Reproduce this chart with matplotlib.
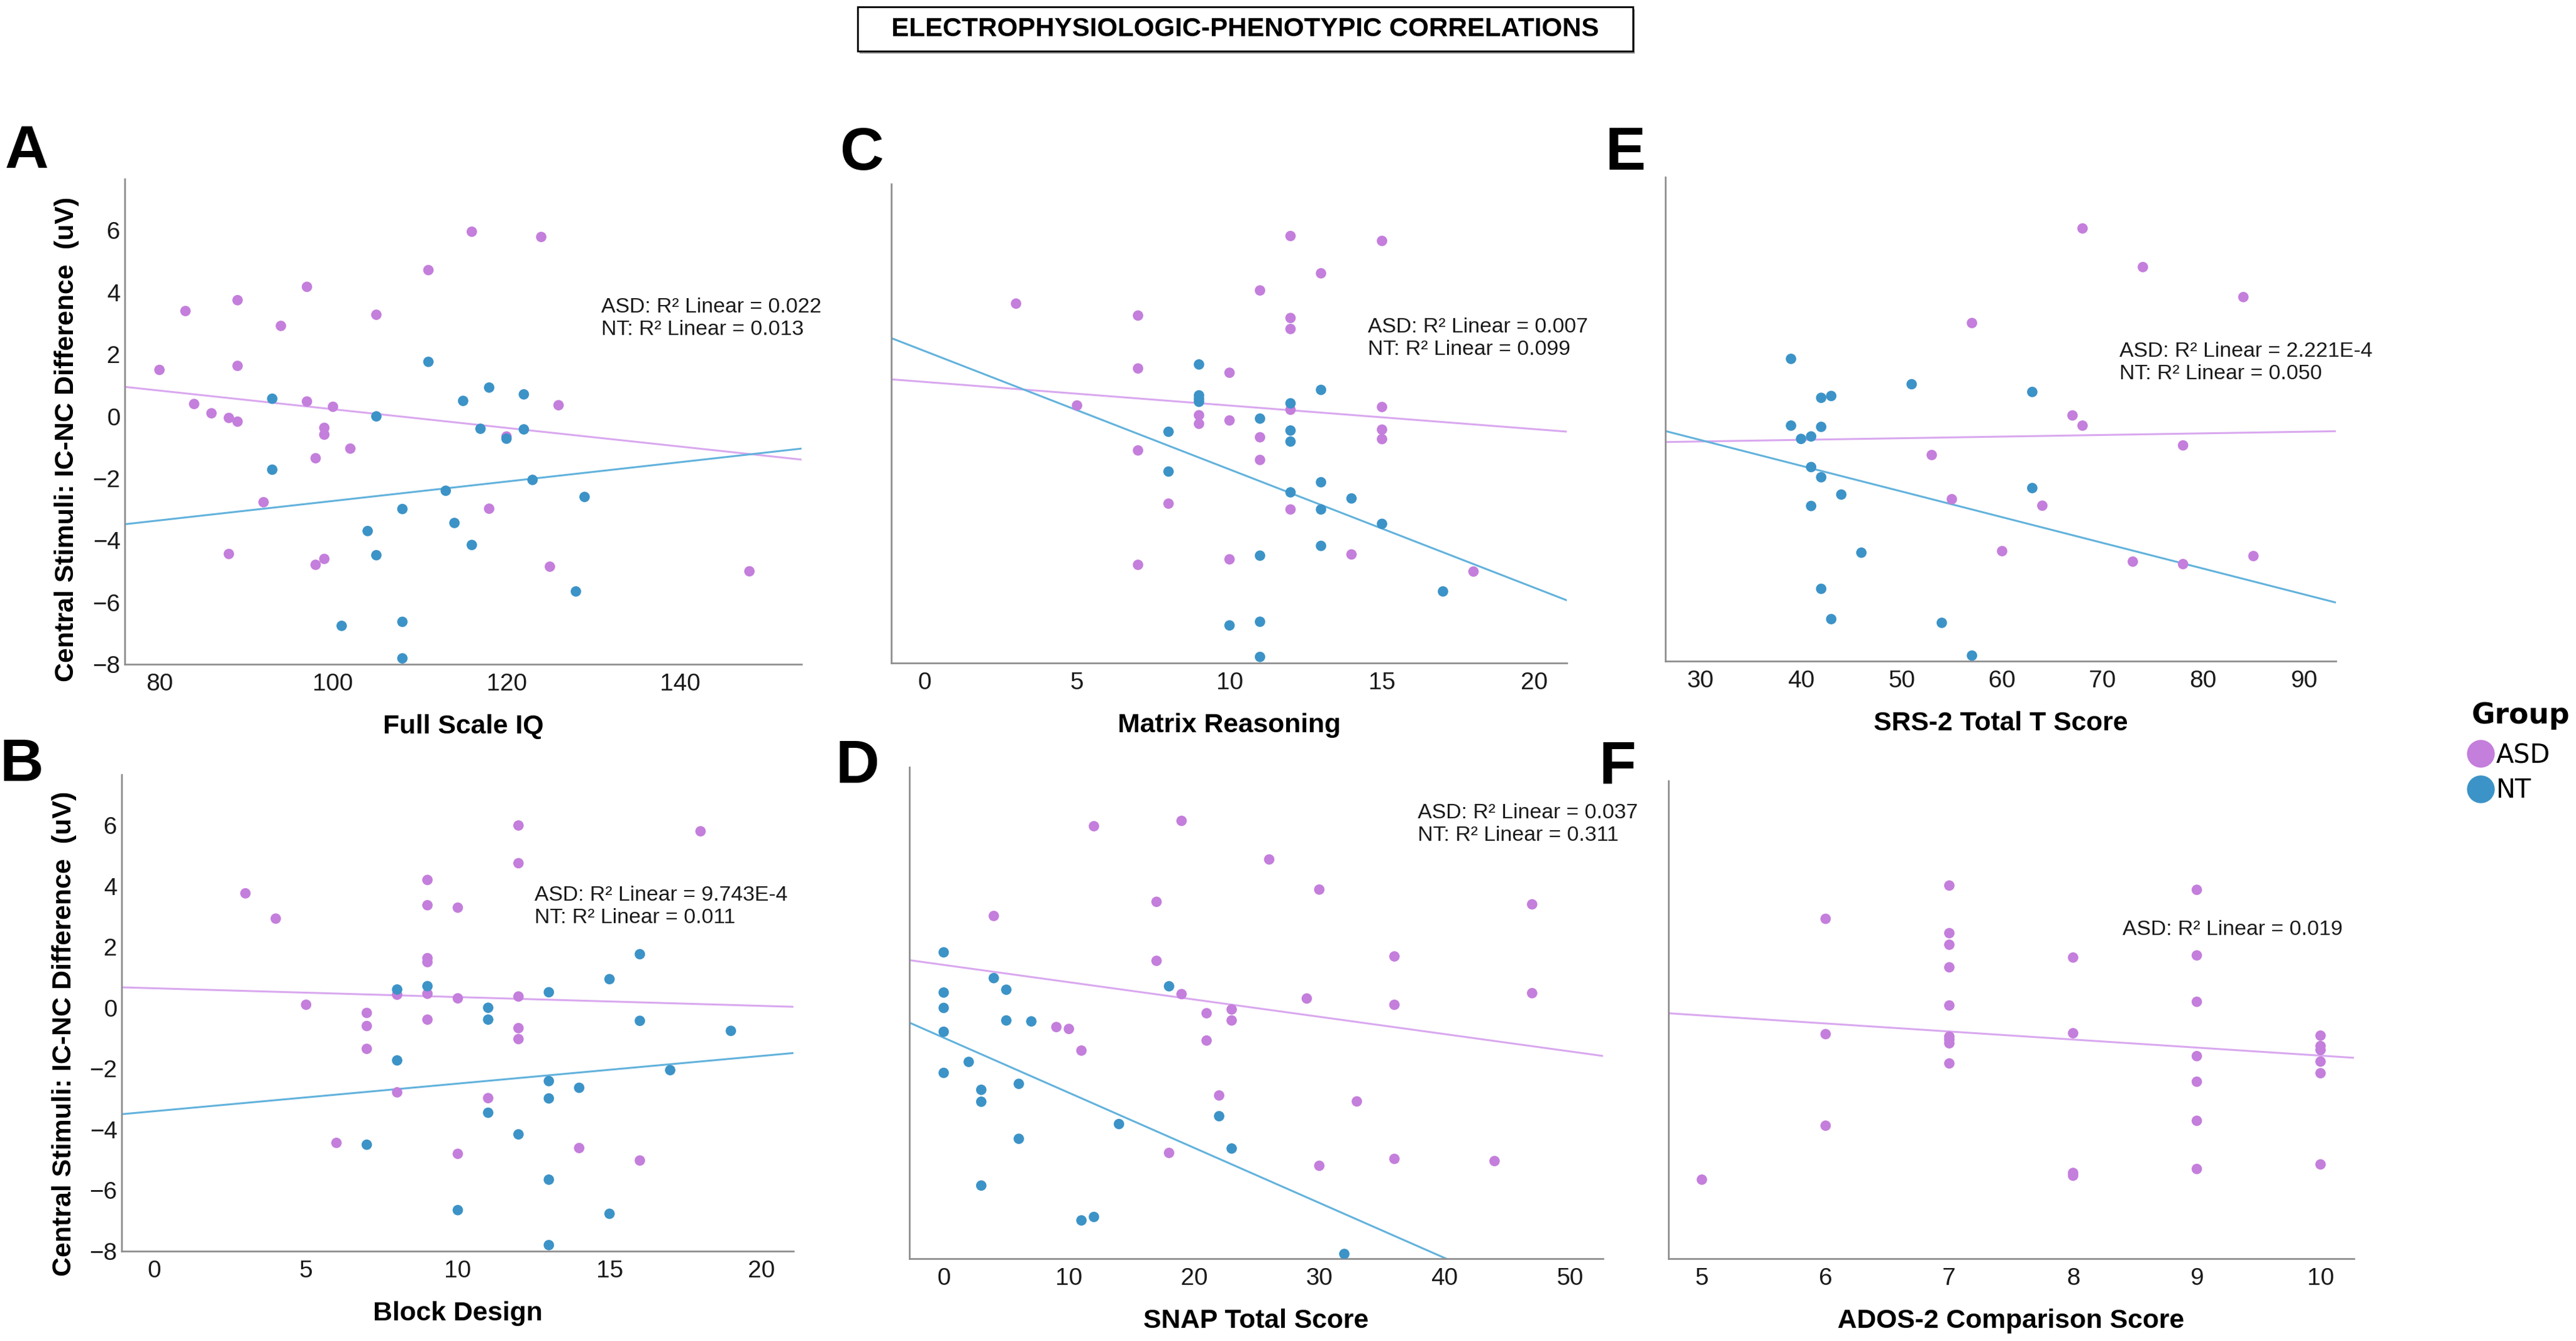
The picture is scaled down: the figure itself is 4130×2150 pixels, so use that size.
import numpy as np
import matplotlib
matplotlib.use('Agg')
import matplotlib.pyplot as plt
from matplotlib.lines import Line2D
from matplotlib.patches import Rectangle

W, H = 4130, 2150
DPI = 100

ASD_COLOR = '#C47EDC'
NT_COLOR = '#3C93C7'
ASD_LINE = '#D9A8EF'
NT_LINE = '#62B2DC'
SPINE_COLOR = '#8f8f8f'

TITLE = 'ELECTROPHYSIOLOGIC-PHENOTYPIC CORRELATIONS'
Y_LABEL = 'Central Stimuli: IC-NC Difference  (uV)'
Y_LIM = (-8, 7.66)
Y_TICKS = [-8, -6, -4, -2, 0, 2, 4, 6]

# A - Full Scale IQ
fsiq_asd_x = [80, 83, 84, 86, 88, 89, 89, 89, 88, 92, 94, 97, 97, 98, 98, 99, 99, 99, 100, 102,
              105, 111, 116, 118, 120, 124, 125, 126, 148]
fsiq_asd_y = [1.5, 3.4, 0.4, 0.1, -0.05, -0.17, 3.75, 1.63, -4.44, -2.77, 2.92, 4.18, 0.48, -1.35,
              -4.79, -0.37, -0.59, -4.6, 0.31, -1.04, 3.28, 4.72, 5.96, -2.98, -0.65, 5.79, -4.85,
              0.36, -5.0]
fsiq_nt_x = [93, 93, 105, 111, 115, 117, 118, 120, 122, 122, 123, 113, 108, 129, 114, 104, 105,
             116, 128, 101, 108, 108]
fsiq_nt_y = [0.57, -1.72, 0.0, 1.76, 0.5, -0.4, 0.93, -0.72, 0.71, -0.42, -2.05, -2.4, -2.99, -2.6,
             -3.44, -3.7, -4.48, -4.15, -5.65, -6.76, -6.63, -7.81]

# B - Block Design
bd_asd_x = [3, 4, 5, 6, 7, 7, 7, 8, 8, 9, 9, 9, 9, 9, 9, 10, 10, 10, 11, 12, 12, 12, 12, 12, 14,
            16, 18]
bd_asd_y = [3.76, 2.93, 0.1, -4.44, -0.17, -0.6, -1.35, 0.43, -2.78, 4.2, 3.37, 1.63, 1.5, 0.46,
            -0.39, 3.29, 0.31, -4.8, -2.97, 5.99, 4.75, 0.37, -0.67, -1.03, -4.61, -5.02, 5.8]
bd_nt_x = [8, 9, 8, 7, 11, 11, 11, 12, 13, 13, 13, 13, 13, 10, 14, 15, 15, 16, 16, 17, 19]
bd_nt_y = [0.6, 0.71, -1.73, -4.5, 0.0, -0.39, -3.45, -4.16, 0.51, -2.41, -2.98, -5.65, -7.8,
           -6.65, -2.63, 0.94, -6.77, 1.76, -0.43, -2.05, -0.76]

# C - Matrix Reasoning
mr_asd_x = [3, 7, 7, 7, 7, 5, 8, 9, 9, 10, 10, 10, 11, 11, 11, 12, 12, 12, 12, 12, 13, 14, 15, 15,
            15, 15, 18]
mr_asd_y = [3.75, 3.36, 1.63, -1.05, -4.79, 0.42, -2.79, 0.1, -0.18, 1.49, -0.07, -4.61, 4.18,
            -0.62, -1.36, 5.96, 3.28, 2.92, 0.28, -2.98, 4.74, -4.45, 5.8, 0.37, -0.37, -0.68, -5.01]
mr_nt_x = [9, 9, 9, 9, 8, 8, 11, 12, 12, 12, 12, 13, 13, 13, 13, 14, 15, 11, 17, 10, 11, 11]
mr_nt_y = [1.76, 0.75, 0.64, 0.54, -0.44, -1.74, -0.01, 0.49, -0.4, -0.76, -2.42, 0.93, -2.09,
           -2.98, -4.17, -2.62, -3.45, -4.49, -5.66, -6.77, -6.65, -7.8]

# D - SNAP Total Score
snap_asd_x = [12, 19, 26, 30, 17, 4, 47, 17, 36, 19, 29, 36, 47, 21, 23, 23, 9, 10, 11, 21, 22, 33,
              18, 30, 36, 44]
snap_asd_y = [5.78, 5.95, 4.72, 3.76, 3.37, 2.92, 3.29, 1.49, 1.63, 0.43, 0.29, 0.09, 0.46, -0.18,
              -0.06, -0.41, -0.62, -0.68, -1.37, -1.05, -2.8, -2.99, -4.63, -5.04, -4.82, -4.89]
snap_nt_x = [0, 0, 0, 0, 0, 4, 5, 5, 7, 2, 3, 3, 6, 6, 3, 14, 18, 22, 23, 11, 12, 32]
snap_nt_y = [1.76, 0.48, -0.01, -0.77, -2.08, 0.94, 0.57, -0.41, -0.44, -1.73, -2.62, -3.0, -2.43,
             -4.18, -5.67, -3.71, 0.68, -3.46, -4.49, -6.78, -6.67, -7.85]

# E - SRS-2 Total T Score
srs_asd_x = [68, 74, 84, 57, 67, 68, 78, 53, 55, 64, 60, 73, 78, 85]
srs_asd_y = [6.0, 4.75, 3.78, 2.94, -0.05, -0.38, -1.02, -1.33, -2.76, -2.97, -4.44, -4.78, -4.86,
             -4.6]
srs_nt_x = [39, 51, 42, 43, 63, 39, 40, 41, 42, 41, 42, 44, 41, 63, 46, 42, 43, 54, 57]
srs_nt_y = [1.78, 0.96, 0.52, 0.58, 0.71, -0.38, -0.81, -0.73, -0.42, -1.72, -2.05, -2.61, -2.98,
            -2.4, -4.49, -5.66, -6.64, -6.76, -7.82]

# F - ADOS-2 Comparison Score (только ASD)
ados_asd_x = [5, 6, 6, 6, 7, 7, 7, 7, 7, 7, 7, 7, 7, 8, 8, 8, 8, 9, 9, 9, 9, 9, 9, 9, 10, 10, 10,
              10, 10, 10]
ados_asd_y = [-5.41, 3.14, -0.64, -3.64, 4.23, 2.67, 2.29, 1.55, 0.3, -0.72, -0.82, -0.94, -1.6,
              1.87, -0.61, -5.19, -5.28, 4.09, 1.94, 0.42, -1.36, -2.2, -3.48, -5.06, -0.69, -1.03,
              -1.16, -1.54, -1.92, -4.91]

# Линии регрессии: (intercept, slope)
fit_asd = {'A': (3.24, -0.0301), 'B': (0.64, -0.0289), 'C': (1.19, -0.0772),
           'D': (1.36, -0.0551), 'E': (-1.05, 0.00525), 'F': (1.29, -0.2635)}
fit_nt = {'A': (-5.86, 0.0313), 'B': (-3.40, 0.0908), 'C': (2.20, -0.387),
          'D': (-0.96, -0.1754), 'E': (1.65, -0.0832)}

r2_notes = {
    'A': 'ASD: R\u00b2 Linear = 0.022\nNT: R\u00b2 Linear = 0.013',
    'B': 'ASD: R\u00b2 Linear = 9.743E-4\nNT: R\u00b2 Linear = 0.011',
    'C': 'ASD: R\u00b2 Linear = 0.007\nNT: R\u00b2 Linear = 0.099',
    'D': 'ASD: R\u00b2 Linear = 0.037\nNT: R\u00b2 Linear = 0.311',
    'E': 'ASD: R\u00b2 Linear = 2.221E-4\nNT: R\u00b2 Linear = 0.050',
    'F': 'ASD: R\u00b2 Linear = 0.019',
}


def px_rect(x0, y0, x1, y1):
    # пиксели исходника -> доли фигуры
    return [x0 / W, 1 - y1 / H, (x1 - x0) / W, (y1 - y0) / H]


# Расположение панелей (пиксели) и подписей
LAYOUT = {
    'A': dict(box=(200, 287, 1285, 1065), letter=(43, 269), note=(0.704, 0.713), ylab=(-0.067, 0.464)),
    'C': dict(box=(1429, 295, 2512, 1063), letter=(1382, 272), note=(0.705, 0.678)),
    'E': dict(box=(2670, 284, 3745, 1060), letter=(2606, 272), note=(0.677, 0.617)),
    'B': dict(box=(195, 1242, 1272, 2006), letter=(35, 1252), note=(0.615, 0.723), ylab=(-0.067, 0.456)),
    'D': dict(box=(1458, 1230, 2570, 2018), letter=(1375, 1255), note=(0.733, 0.884)),
    'F': dict(box=(2675, 1252, 3774, 2018), letter=(2593, 1255), note=(0.662, 0.688)),
}


def draw_panel(fig, key, xlabel, xlim, xticks, asd, nt):
    lay = LAYOUT[key]
    ax = fig.add_axes(px_rect(*lay['box']))
    ax.set_xlim(xlim)
    ax.set_ylim(Y_LIM)

    ax.scatter(asd[0], asd[1], s=145, color=ASD_COLOR, edgecolors='none', zorder=3)
    if nt is not None:
        ax.scatter(nt[0], nt[1], s=145, color=NT_COLOR, edgecolors='none', zorder=3)

    xs = np.array(xlim)
    a, b = fit_asd[key]
    ax.plot(xs, a + b * xs, color=ASD_LINE, lw=2.2, zorder=2)
    if key in fit_nt:
        a, b = fit_nt[key]
        ax.plot(xs, a + b * xs, color=NT_LINE, lw=2.2, zorder=2)

    for side in ('top', 'right'):
        ax.spines[side].set_visible(False)
    for side in ('left', 'bottom'):
        ax.spines[side].set_color(SPINE_COLOR)
        ax.spines[side].set_linewidth(2)

    ax.set_xticks(xticks)
    ax.tick_params(axis='both', length=0, labelsize=28, colors='#1a1a1a')
    ax.tick_params(axis='x', pad=10)
    ax.tick_params(axis='y', pad=5)
    ax.set_xlabel(xlabel, fontsize=31, fontweight='bold', labelpad=22)

    if 'ylab' in lay:
        ax.set_yticks(Y_TICKS)
        ax.set_ylabel(Y_LABEL, fontsize=31, fontweight='bold')
        ax.yaxis.set_label_coords(*lay['ylab'])
    else:
        ax.set_yticks([])

    ax.text(lay['note'][0], lay['note'][1], r2_notes[key], transform=ax.transAxes,
            ha='left', va='center', fontsize=24.5, color='#1a1a1a')

    lx, ly = lay['letter']
    fig.text(lx / W, 1 - ly / H, key, ha='center', va='baseline', fontsize=70,
             fontweight='bold')
    return ax


def main():
    plt.rcParams['font.family'] = ['Liberation Sans', 'DejaVu Sans']
    fig = plt.figure(figsize=(W / DPI, H / DPI), dpi=DPI)

    draw_panel(fig, 'A', 'Full Scale IQ', (76, 154), [80, 100, 120, 140],
               (fsiq_asd_x, fsiq_asd_y), (fsiq_nt_x, fsiq_nt_y))
    draw_panel(fig, 'B', 'Block Design', (-1.08, 21.06), [0, 5, 10, 15, 20],
               (bd_asd_x, bd_asd_y), (bd_nt_x, bd_nt_y))
    draw_panel(fig, 'C', 'Matrix Reasoning', (-1.09, 21.06), [0, 5, 10, 15, 20],
               (mr_asd_x, mr_asd_y), (mr_nt_x, mr_nt_y))
    draw_panel(fig, 'D', 'SNAP Total Score', (-2.74, 52.66), [0, 10, 20, 30, 40, 50],
               (snap_asd_x, snap_asd_y), (snap_nt_x, snap_nt_y))
    draw_panel(fig, 'E', 'SRS-2 Total T Score', (26.5, 93.2), [30, 40, 50, 60, 70, 80, 90],
               (srs_asd_x, srs_asd_y), (srs_nt_x, srs_nt_y))
    draw_panel(fig, 'F', 'ADOS-2 Comparison Score', (4.73, 10.27), [5, 6, 7, 8, 9, 10],
               (ados_asd_x, ados_asd_y), None)

    # Заголовок в рамке
    shadow = Rectangle((1378 / W, 1 - 86 / H), 1243 / W, 71 / H, transform=fig.transFigure,
                       facecolor='#9a9a9a', edgecolor='none', zorder=1)
    box = Rectangle((1375 / W, 1 - 82 / H), 1243 / W, 71 / H, transform=fig.transFigure,
                    facecolor='white', edgecolor='black', lw=2, zorder=2)
    fig.patches.extend([shadow, box])
    fig.text(1996 / W, 1 - 47 / H, TITLE, ha='center', va='center', fontsize=30.5,
             fontweight='bold', zorder=3)

    # Легенда
    fig.text(3963 / W, 1 - 1160 / H, 'Group', ha='left', va='baseline', fontsize=33,
             fontweight='bold', family='DejaVu Sans')
    handles = [Line2D([], [], ls='none', marker='o', ms=31, color=ASD_COLOR, label='ASD'),
               Line2D([], [], ls='none', marker='o', ms=31, color=NT_COLOR, label='NT')]
    fig.legend(handles=handles, loc='upper left',
               bbox_to_anchor=(3958 / W, 1 - 1190 / H), frameon=False,
               prop={'family': 'DejaVu Sans', 'size': 30}, handlelength=0.9,
               handletextpad=0.15, labelspacing=0.34, borderpad=0, borderaxespad=0)

    fig.savefig('out.png', dpi=DPI, facecolor='white')


if __name__ == '__main__':
    main()
